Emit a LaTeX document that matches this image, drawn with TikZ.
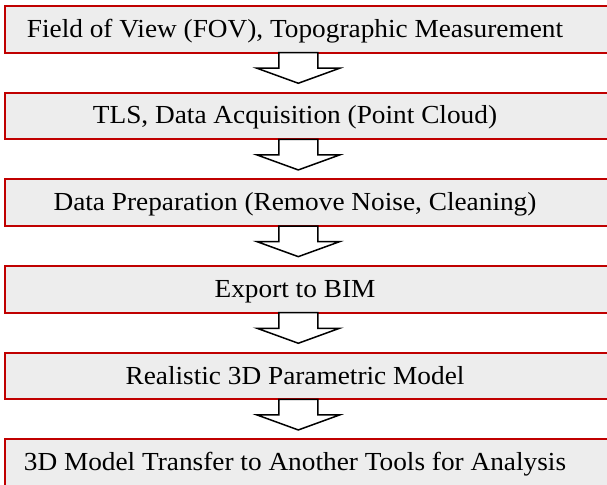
\documentclass[tikz,border=0pt]{standalone}
\usepackage{fontspec}
\setmainfont{Liberation Serif}[FakeStretch=1.05]
\usetikzlibrary{calc}
\definecolor{boxred}{RGB}{192,0,0}
\definecolor{boxfill}{RGB}{237,237,237}
\newcommand{\downstep}[1]{%
  \coordinate (a#1) at ($(b#1.south)+(-21.7,-1)$);
  \draw[flowarrow] ($(a#1)+(-19.5,0)$) -- ($(a#1)+(-19.5,15.6)$) -- ($(a#1)+(-41.3,15.6)$)
    -- ($(a#1)+(0,30.6)$) -- ($(a#1)+(41.3,15.6)$) -- ($(a#1)+(19.5,15.6)$)
    -- ($(a#1)+(19.5,0)$) -- cycle;}
\begin{document}
\begin{tikzpicture}[x=1pt,y=-1pt,
  stepbox/.style={draw=boxred, line width=2pt, fill=boxfill, minimum width=630pt,
    minimum height=46.7pt, inner sep=0pt, text height=17pt, text depth=1pt,
    font=\fontsize{26}{31}\selectfont},
  flowarrow/.style={draw=black, line width=1.5pt, fill=white, line join=miter}]
\useasboundingbox (0,0) rectangle (607,484);
\clip (0,0) rectangle (607,484);
\fill[white] (0,0) rectangle (607,484);
\node[stepbox] (b1) at (320,29.3)  {Field of View (FOV), Topographic Measurement\hspace*{50pt}};
\node[stepbox] (b2) at (320,116.0) {TLS, Data Acquisition (Point Cloud)\hspace*{50pt}};
\node[stepbox] (b3) at (320,202.7) {Data Preparation (Remove Noise, Cleaning)\hspace*{50pt}};
\node[stepbox] (b4) at (320,289.3) {Export to BIM\hspace*{50pt}};
\node[stepbox] (b5) at (320,376.0) {Realistic 3D Parametric Model\hspace*{50pt}};
\node[stepbox] (b6) at (320,462.7) {3D Model Transfer to Another Tools for Analysis\hspace*{50pt}};
\downstep{1}
\downstep{2}
\downstep{3}
\downstep{4}
\downstep{5}
\end{tikzpicture}
\end{document}
